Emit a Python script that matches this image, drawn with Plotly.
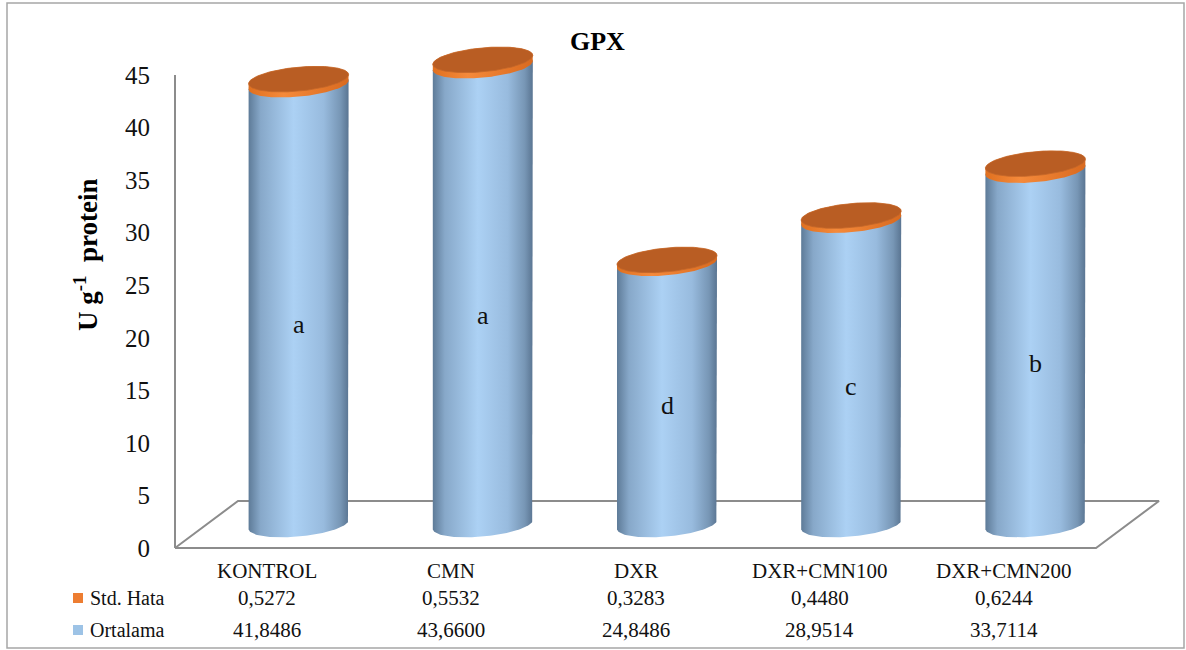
import numpy as np
import plotly.graph_objects as go

# ---- data ----
categories = ["KONTROL", "CMN", "DXR", "DXR+CMN100", "DXR+CMN200"]
ortalama = [41.8486, 43.6600, 24.8486, 28.9514, 33.7114]
std_hata = [0.5272, 0.5532, 0.3283, 0.4480, 0.6244]
letters = ["a", "a", "d", "c", "b"]
y_ticks = [0, 5, 10, 15, 20, 25, 30, 35, 40, 45]

# ---- layout geometry (pixels) ----
W, H = 1186, 650
L, R, T, B = 165, 1170, 40, 560          # plot area edges
PX_X = 184.2                              # pixels per category step
PX_Y = 10.51                              # pixels per value unit
X0_PX, Y0_PX = 175, 548                   # front-left floor corner
x_range = [-0.5 - (X0_PX - L) / PX_X, -0.5 + (R - X0_PX) / PX_X]
y_range = [(Y0_PX - B) / PX_Y, (Y0_PX - T) / PX_Y]

depth_dx = 63 / PX_X                      # floor depth offset
depth_dy = 47 / PX_Y
cyl_dx, cyl_dy = depth_dx / 2, depth_dy / 2
rx = 50 / PX_X                            # cylinder radius (x units)
ry = 12 / PX_Y                            # ellipse half height
tilt = 4.5 / PX_Y                         # perspective tilt of the ellipses

SERIF = "Liberation Serif, Times New Roman, serif"
BODY_SCALE = [[0, "#5e7b98"], [0.12, "#87a8c9"], [0.45, "#acd1f4"],
              [0.75, "#98bbde"], [0.92, "#7796b5"], [1, "#5a7592"]]
RIM_SCALE = [[0, "#e0701f"], [0.35, "#f58a3b"], [1, "#d96a1f"]]
TOP_COLOR = "#b95d23"
GRID_GREY = "#8c8c8c"
TEXT = "#111111"


def px_x(px):
    return (px - L) / (R - L)


def px_y(py):
    return (B - py) / (B - T)


def ellipse(cx, cy, t):
    t = np.asarray(t)
    return cx + rx * np.cos(t), cy + ry * np.sin(t) + tilt * np.cos(t)


fig = go.Figure()

# floor parallelogram
fx = [-0.5, 4.5, 4.5 + depth_dx, -0.5 + depth_dx, -0.5]
fy = [0, 0, depth_dy, depth_dy, 0]
fig.add_trace(go.Scatter(x=fx, y=fy, mode="lines", hoverinfo="skip",
                         line=dict(color=GRID_GREY, width=2), showlegend=False))
# value axis line
fig.add_trace(go.Scatter(x=[-0.5, -0.5], y=[0, y_ticks[-1]], mode="lines", hoverinfo="skip",
                         line=dict(color=GRID_GREY, width=2), showlegend=False))

t_up = np.linspace(np.pi, 0, 80)
t_down = np.linspace(0, -np.pi, 80)
t_full = np.linspace(0, 2 * np.pi, 160)

for i, (v, se) in enumerate(zip(ortalama, std_hata)):
    cx = i + cyl_dx
    base = cyl_dy
    # cylinder body (Ortalama)
    x1, y1 = ellipse(cx, base + v, t_up)
    x2, y2 = ellipse(cx, base, t_down)
    fig.add_trace(go.Scatter(
        x=np.concatenate([x1, x2]), y=np.concatenate([y1, y2]),
        fill="toself", mode="lines", line=dict(width=0, color="rgba(0,0,0,0)"),
        fillgradient=dict(type="horizontal", colorscale=BODY_SCALE),
        hoverinfo="skip", showlegend=False))
    # stacked rim (Std. Hata)
    x3, y3 = ellipse(cx, base + v, np.linspace(-np.pi, 0, 80))
    x4, y4 = ellipse(cx, base + v + se, np.linspace(0, np.pi, 80))
    fig.add_trace(go.Scatter(
        x=np.concatenate([x3, x4]), y=np.concatenate([y3, y4]),
        fill="toself", mode="lines", line=dict(width=0, color="rgba(0,0,0,0)"),
        fillgradient=dict(type="horizontal", colorscale=RIM_SCALE),
        hoverinfo="skip", showlegend=False))
    # top face
    x5, y5 = ellipse(cx, base + v + se, t_full)
    fig.add_trace(go.Scatter(
        x=x5, y=y5, fill="toself", mode="lines",
        line=dict(width=0.8, color="#c4672a"), fillcolor=TOP_COLOR,
        hoverinfo="skip", showlegend=False))

annotations = []
# significance letters on the cylinders
for i, (v, lt) in enumerate(zip(ortalama, letters)):
    annotations.append(dict(x=i + cyl_dx, y=cyl_dy + 0.455 * v, xref="x", yref="y",
                            text=lt, showarrow=False,
                            font=dict(family=SERIF, size=26, color=TEXT)))

# data table below the chart
fmt = lambda val: f"{val:.4f}".replace(".", ",")
for i, cat in enumerate(categories):
    annotations.append(dict(x=i, y=px_y(571), xref="x", yref="paper", text=cat,
                            showarrow=False, yanchor="middle",
                            font=dict(family=SERIF, size=21, color=TEXT)))
    annotations.append(dict(x=i, y=px_y(598), xref="x", yref="paper", text=fmt(std_hata[i]),
                            showarrow=False, yanchor="middle",
                            font=dict(family=SERIF, size=21, color=TEXT)))
    annotations.append(dict(x=i, y=px_y(630), xref="x", yref="paper", text=fmt(ortalama[i]),
                            showarrow=False, yanchor="middle",
                            font=dict(family=SERIF, size=21, color=TEXT)))

for label, py in [("Std. Hata", 598), ("Ortalama", 630)]:
    annotations.append(dict(x=px_x(88), y=px_y(py), xref="paper", yref="paper", text=label,
                            showarrow=False, xanchor="left", yanchor="middle",
                            font=dict(family=SERIF, size=20, color=TEXT)))

# title and axis title
annotations.append(dict(x=px_x(597), y=px_y(42), xref="paper", yref="paper", text="<b>GPX</b>",
                        showarrow=False, xanchor="center", yanchor="middle",
                        font=dict(family=SERIF, size=26, color="#000000")))
annotations.append(dict(x=px_x(86), y=px_y(255), xref="paper", yref="paper",
                        text="<b>U g<sup>-1</sup>  protein</b>", textangle=-90,
                        showarrow=False, xanchor="center", yanchor="middle",
                        font=dict(family=SERIF, size=27, color="#000000")))

shapes = [
    # legend keys of the table
    dict(type="rect", xref="paper", yref="paper", x0=px_x(73), x1=px_x(83),
         y0=px_y(603), y1=px_y(593), fillcolor="#ed7d31", line=dict(width=0)),
    dict(type="rect", xref="paper", yref="paper", x0=px_x(73), x1=px_x(83),
         y0=px_y(635), y1=px_y(625), fillcolor="#9dc3e6", line=dict(width=0)),
    # chart border
    dict(type="rect", xref="paper", yref="paper", x0=px_x(7), x1=px_x(1184),
         y0=px_y(648), y1=px_y(3), line=dict(color="#a6a6a6", width=1.5),
         fillcolor="rgba(0,0,0,0)", layer="below"),
]

fig.update_layout(
    width=W, height=H,
    margin=dict(l=L, r=W - R, t=T, b=H - B),
    paper_bgcolor="white", plot_bgcolor="white",
    font=dict(family=SERIF, color=TEXT),
    xaxis=dict(range=x_range, visible=False, fixedrange=True),
    yaxis=dict(range=y_range, tickvals=y_ticks, showgrid=False, zeroline=False,
               showline=False, ticks="", ticklabelstandoff=14,
               tickfont=dict(family=SERIF, size=25, color=TEXT), fixedrange=True),
    annotations=annotations, shapes=shapes, showlegend=False,
)

fig.write_html("out.html")
